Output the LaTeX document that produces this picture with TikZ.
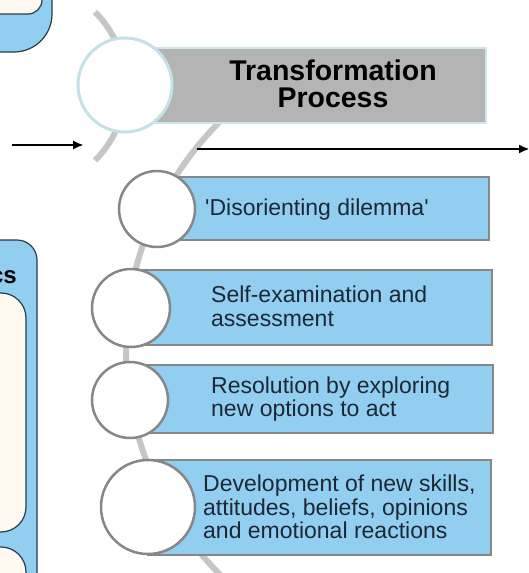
\documentclass[tikz,border=0pt]{standalone}
\usepackage{fontspec}
\setmainfont{Liberation Sans}
\usetikzlibrary{arrows.meta,positioning}
\definecolor{stepblue}{RGB}{146,206,240}
\definecolor{stepgray}{RGB}{135,135,135}
\definecolor{arcgray}{RGB}{198,198,198}
\definecolor{titlegray}{RGB}{180,180,180}
\definecolor{titleedge}{RGB}{205,230,238}
\definecolor{ringcyan}{RGB}{196,226,230}
\definecolor{inkdark}{RGB}{30,40,52}
\definecolor{framedark}{RGB}{40,60,78}
\definecolor{cream}{RGB}{255,249,242}

\begin{document}
\begin{tikzpicture}[x=1pt,y=-1pt,
  steprect/.style={rectangle,fill=stepblue,draw=stepgray,line width=2pt,inner sep=0pt},
  stepcirc/.style={circle,fill=white,draw=stepgray,line width=2.5pt,inner sep=0pt},
  steptext/.style={anchor=west,align=left,inner sep=0pt,text=inkdark,font=\fontsize{23}{23.5}\selectfont},
  sidebox/.style={fill=stepblue,draw=framedark,line width=1.2pt},
  sideinner/.style={fill=cream,draw=framedark,line width=1.2pt},
  flow/.style={-{Latex[length=11pt,width=9pt]},line width=2.5pt}]
\clip (0,0) rectangle (528,573);

\draw[sidebox,rounded corners=38pt] (-80,-80) rectangle (52,52);
\draw[sideinner,rounded corners=14pt] (-80,-80) rectangle (42,14);
\draw[sidebox,rounded corners=20pt] (-80,240) rectangle (37,700);
\draw[sideinner,rounded corners=25pt] (-80,293) rectangle (26,532);
\draw[sideinner,rounded corners=25pt] (-80,547) rectangle (26,700);
\node[anchor=base east,inner sep=0pt,font=\bfseries\fontsize{24}{27}\selectfont] (sidelabel) at (17,283) {cs};

\draw[arcgray,line width=6pt] (95,12) arc[start angle=45,end angle=-45,radius=105pt];
\begin{scope}
\clip (0,100) rectangle (240,573);
\draw[arcgray,line width=6pt] (446,348) circle[radius=320pt];
\end{scope}

\node[rectangle,fill=titlegray,draw=titleedge,line width=2pt,minimum width=361pt,minimum height=75pt] (title) at (305.5,85.5) {};
\node[circle,fill=white,draw=ringcyan,line width=3pt,minimum size=94pt,inner sep=0pt] (tcirc) at (125,85) {};
\node[align=center,font=\bfseries\fontsize{28.5}{27}\selectfont] (ttext) at (333,84) {Transformation\\Process};

\coordinate (inL) at (12,145);
\coordinate (inR) at (84,145);
\coordinate (flowL) at (197,149);
\coordinate (flowR) at (530,149);
\draw[flow] (inL) -- (inR);
\draw[flow] (flowL) -- (flowR);

\node[steprect,minimum width=339pt,minimum height=63pt] (box1) at (319.5,208.5) {};
\node[stepcirc,minimum size=76pt] (c1) at (157,209) {};
\node[steptext] (txt1) at (205,210) {\textquotesingle Disorienting dilemma\textquotesingle};

\node[steprect,minimum width=361pt,minimum height=75pt] (box2) at (311.5,307.5) {};
\node[stepcirc,minimum size=78pt] (c2) at (131,308) {};
\node[steptext] (txt2) at (211,306.5) {Self-examination and\\assessment};

\node[steprect,minimum width=363pt,minimum height=68pt] (box3) at (311.5,399) {};
\node[stepcirc,minimum size=76pt] (c3) at (130,400) {};
\node[steptext] (txt3) at (211,399) {Resolution by exploring\\new options to act};

\node[steprect,minimum width=343pt,minimum height=95pt] (box4) at (319.5,507.5) {};
\node[stepcirc,minimum size=94pt] (c4) at (148,507) {};
\node[steptext] (txt4) at (203,507) {Development of new skills,\\attitudes, beliefs, opinions\\and emotional reactions};
\end{tikzpicture}
\end{document}
